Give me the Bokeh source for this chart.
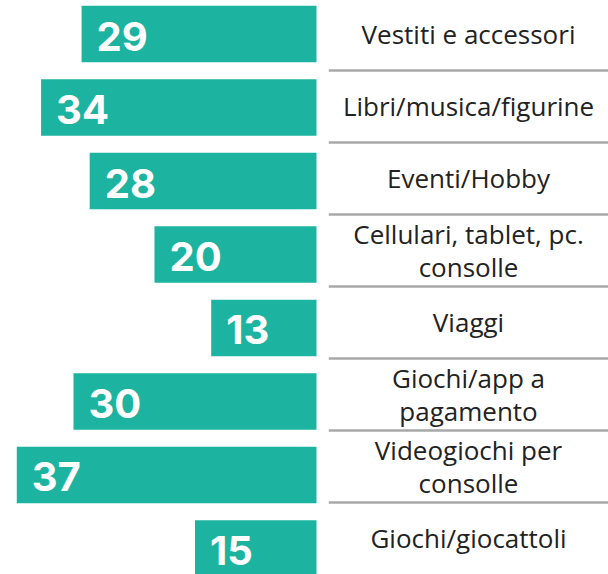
from bokeh.plotting import figure
from bokeh.models import Range1d, ColumnDataSource
from bokeh.core.properties import value
from bokeh.embed import file_html
from bokeh.resources import INLINE

# ---- data ----
categories = [
    "Vestiti e accessori",
    "Libri/musica/figurine",
    "Eventi/Hobby",
    "Cellulari, tablet, pc.\nconsolle",
    "Viaggi",
    "Giochi/app a\npagamento",
    "Videogiochi per\nconsolle",
    "Giochi/giocattoli",
]
values = [29, 34, 28, 20, 13, 30, 37, 15]

rows = list(range(len(categories)))
seps = [i + 0.5 for i in rows[:-1]]

BAR = "#1cb4a0"

p = figure(
    width=608, height=574,
    x_range=Range1d(39.01, -36.05),
    y_range=Range1d(7.354, -0.456),
    output_backend="svg", toolbar_location=None, min_border=0,
)
p.extra_y_ranges = {"labels": Range1d(7.5, -0.4722)}
p.axis.visible = False
p.grid.visible = False
p.outline_line_color = None
p.background_fill_color = "white"
p.border_fill_color = "white"

src = ColumnDataSource(dict(y=rows, v=values, t=[str(v) for v in values], cat=categories))

p.hbar(y="y", left="v", right=0, height=0.769, fill_color=BAR, line_color=None, source=src)

p.text(x="v", y="y", text="t", source=src, x_offset=15, y_offset=2,
       text_align="left", text_baseline="alphabetic", text_color="white",
       text_font=value("Inter"), text_font_style="bold", text_font_size="40px")

# category labels (separate row pitch)
p.text(x=-18.77, y="y", text="cat", source=src, y_range_name="labels",
       text_align="center", text_baseline="middle", text_color="#222222",
       text_font=value("Open Sans"), text_font_size="26px", text_line_height=0.93)

p.segment(x0=[-1.52] * len(seps), x1=[-37.0] * len(seps), y0=seps, y1=seps,
          y_range_name="labels", line_color="#a8a8a8", line_width=2.5)

open("out.html", "w").write(file_html(p, INLINE))
